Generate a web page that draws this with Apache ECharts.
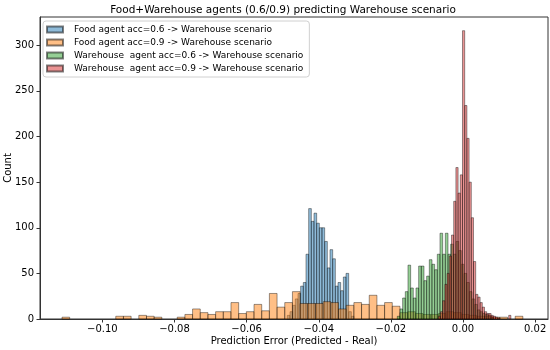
<!DOCTYPE html>
<html>
<head>
<meta charset="utf-8">
<script src="https://cdn.jsdelivr.net/npm/echarts@6/dist/echarts.min.js"></script>
<style>
html,body{margin:0;padding:0;background:#fff;}
#c{width:550px;height:350px;}
</style>
</head>
<body>
<div id="c"></div>
<script>
// ---- data ----
const seriesNames = [
  'Food agent acc=0.6 -> Warehouse scenario',
  'Food agent acc=0.9 -> Warehouse scenario',
  'Warehouse  agent acc=0.6 -> Warehouse scenario',
  'Warehouse  agent acc=0.9 -> Warehouse scenario'
];
const xTicks = [-0.10, -0.08, -0.06, -0.04, -0.02, 0.00, 0.02];
const yTicks = [0, 50, 100, 150, 200, 250, 300];

// histogram bins: first edge, bin width, counts
const foodLowStart = -0.04872, foodLowWidth = 0.00074;
const foodLowCounts = [4,8,15,22,28,36,40,71,121,107,116,105,100,100,85,56,76,66,36,40,31,46,50,8,3];

const foodHighStart = -0.1112, foodHighWidth = 0.00213;
const foodHighCounts = [2,0,0,0,0,0,0,3,3,0, 4,3,2,0,0,2,5,11,7,5, 8,8,18,6,8,16,9,28,13,18,
                        30,17,17,17,19,18,11,15,18,16, 26,15,18,14,7,8,6,5,5,6, 8,7,5,4,3,3,2,2,0,3];

const whLowStart = -0.01822, whLowWidth = 0.00074;
const whLowCounts = [3,11,23,30,59,34,23,34,58,58,42,47,65,60,54,71,94,71,94,71,82,71,85,75,60,50,40,30,22,16,10,8,6,5,4,2];

const whHighStart = -0.00685, whHighWidth = 0.00061;
const whHighCounts = [3,8,20,38,50,69,92,129,166,138,158,316,234,198,150,111,63,27,24,18,13,8,6,6,4,3,2,1,0,0,0,0,4];

const xMin = -0.1173, xMax = 0.02357, yMax = 331;

// ---- build ----
function bins(start, width, counts) {
  return counts.map((c, i) => [start + i * width, start + (i + 1) * width, c]);
}
const fills = ['rgba(31,119,180,0.5)', 'rgba(255,127,14,0.5)', 'rgba(44,160,44,0.5)', 'rgba(214,39,40,0.5)'];
const edge = 'rgba(0,0,0,0.5)';
const datasets = [
  bins(foodLowStart, foodLowWidth, foodLowCounts),
  bins(foodHighStart, foodHighWidth, foodHighCounts),
  bins(whLowStart, whLowWidth, whLowCounts),
  bins(whHighStart, whHighWidth, whHighCounts)
];

const font = 'DejaVu Sans';
const chart = echarts.init(document.getElementById('c'), null, {renderer: 'canvas'});

const series = datasets.map((d, k) => ({
  name: seriesNames[k],
  type: 'custom',
  data: d,
  encode: {x: [0, 1], y: 2},
  itemStyle: {color: fills[k], borderColor: edge, borderWidth: 0.8},
  renderItem: function (params, api) {
    const c = api.value(2);
    if (!c) return null;
    const p0 = api.coord([api.value(0), c]);
    const p1 = api.coord([api.value(1), 0]);
    return {
      type: 'rect',
      shape: {x: p0[0], y: p0[1], width: p1[0] - p0[0], height: p1[1] - p0[1]},
      style: {fill: fills[k], stroke: edge, lineWidth: 0.8}
    };
  },
  z: 2 + k
}));

function fmtX(v) {
  const s = Math.abs(v).toFixed(2);
  return (v < -1e-9 ? '\u2212' : '') + s;
}

chart.setOption({
  animation: false,
  backgroundColor: '#ffffff',
  textStyle: {fontFamily: font},
  title: {
    text: 'Food+Warehouse agents (0.6/0.9) predicting Warehouse scenario',
    left: 278, top: 0, textAlign: 'center',
    textStyle: {fontFamily: font, fontSize: 10.5, fontWeight: 'normal', color: '#000'}
  },
  legend: {
    orient: 'vertical', left: 43, top: 21,
    itemWidth: 16, itemHeight: 6, itemGap: 4,
    icon: 'rect',
    padding: [4, 6, 4, 3],
    backgroundColor: '#ffffff',
    borderColor: '#d0d0d0', borderWidth: 1, borderRadius: 3,
    textStyle: {fontFamily: font, fontSize: 9, color: '#000', padding: [0, 0, 0, 6]},
    data: seriesNames
  },
  grid: {left: 40, right: 2, top: 17, bottom: 31, outerBoundsMode: 'none', containLabel: false,
         show: true, borderColor: '#333', borderWidth: 1, backgroundColor: 'transparent'},
  xAxis: {
    type: 'value', min: xMin, max: xMax,
    name: 'Prediction Error (Predicted - Real)', nameLocation: 'middle', nameGap: 17, nameMoveOverlap: false,
    nameTextStyle: {fontFamily: font, fontSize: 10, color: '#000'},
    axisLine: {show: true, onZero: false, lineStyle: {color: '#333', width: 1}},
    axisTick: {show: true, length: 3.5, lineStyle: {color: '#333'}, customValues: xTicks},
    axisLabel: {fontFamily: font, fontSize: 10, color: '#000', margin: 5, customValues: xTicks, formatter: fmtX},
    splitLine: {show: false}
  },
  yAxis: {
    type: 'value', min: 0, max: yMax,
    name: 'Count', nameLocation: 'middle', nameGap: 27, nameMoveOverlap: false,
    nameTextStyle: {fontFamily: font, fontSize: 10, color: '#000'},
    axisLine: {show: true, onZero: false, lineStyle: {color: '#333', width: 1}},
    axisTick: {show: true, length: 3.5, lineStyle: {color: '#333'}, customValues: yTicks},
    axisLabel: {fontFamily: font, fontSize: 10, color: '#000', margin: 6, customValues: yTicks},
    splitLine: {show: false}
  },
  series: series
});
</script>
</body>
</html>
